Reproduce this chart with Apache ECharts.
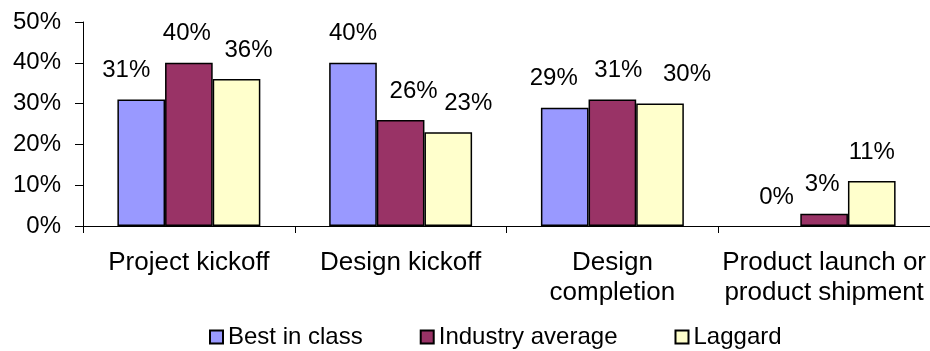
<!DOCTYPE html>
<html>
<head>
<meta charset="utf-8">
<script src="https://cdn.jsdelivr.net/npm/echarts@6/dist/echarts.min.js"></script>
<style>
html,body{margin:0;padding:0;background:#fff;}
#chart{width:930px;height:351px;}
</style>
</head>
<body>
<div id="chart"></div>
<script>
const categories = ['Project kickoff', 'Design kickoff', 'Design\ncompletion', 'Product launch or\nproduct shipment'];
const seriesNames = ['Best in class', 'Industry average', 'Laggard'];
const bestInClass = [31, 40, 29, 0];
const industryAverage = [40, 26, 31, 3];
const laggard = [36, 23, 30, 11];
const yTicks = [0, 10, 20, 30, 40, 50];

const colors = ['#9999FF', '#993366', '#FFFFCC'];
// label horizontal nudges (style only), per series per category
const labelDx = [[-15, 0, -11, 0], [-2, 13, 6, -2], [12, 20, 27, 0]];
const FONT = 'Liberation Sans, Arial, sans-serif';

const values = [bestInClass, industryAverage, laggard];
const series = values.map((vals, s) => ({
  name: seriesNames[s],
  type: 'bar',
  barGap: '0%',
  barCategoryGap: '32.5%',
  itemStyle: { color: colors[s], borderColor: '#000', borderWidth: 1.5 },
  data: vals.map((v, i) => ({
    value: v,
    itemStyle: v === 0 ? { borderWidth: 0 } : undefined,
    label: { offset: [labelDx[s][i], 0] }
  })),
  label: {
    show: true, position: 'top', distance: 15,
    formatter: p => p.value + '%',
    color: '#000', fontFamily: FONT, fontSize: 24, lineHeight: 28
  }
}));

const chart = echarts.init(document.getElementById('chart'), null, { renderer: 'canvas' });
chart.setOption({
  animation: false,
  backgroundColor: '#fff',
  grid: { left: 83, right: 0, top: 22, bottom: 125, containLabel: false },
  legend: {
    data: seriesNames,
    left: 204, top: 318,
    itemWidth: 13, itemHeight: 13, itemGap: 57,
    icon: 'rect',
    textStyle: { color: '#000', fontFamily: FONT, fontSize: 24, lineHeight: 28, padding: [0, 0, 0, 0] }
  },
  xAxis: {
    type: 'category',
    data: categories,
    axisLine: { lineStyle: { color: '#000', width: 1 } },
    axisTick: { show: true, length: 7, lineStyle: { color: '#000' } },
    axisLabel: { color: '#000', fontFamily: FONT, fontSize: 26, lineHeight: 30, margin: 22, interval: 0 }
  },
  yAxis: {
    type: 'value',
    min: yTicks[0], max: yTicks[yTicks.length - 1], interval: 10,
    splitLine: { show: false },
    axisLine: { show: true, lineStyle: { color: '#000', width: 1 } },
    axisTick: { show: true, length: 8, lineStyle: { color: '#000' } },
    axisLabel: { color: '#000', fontFamily: FONT, fontSize: 24, margin: 22, formatter: v => v + '%' }
  },
  series: series
});
</script>
</body>
</html>
